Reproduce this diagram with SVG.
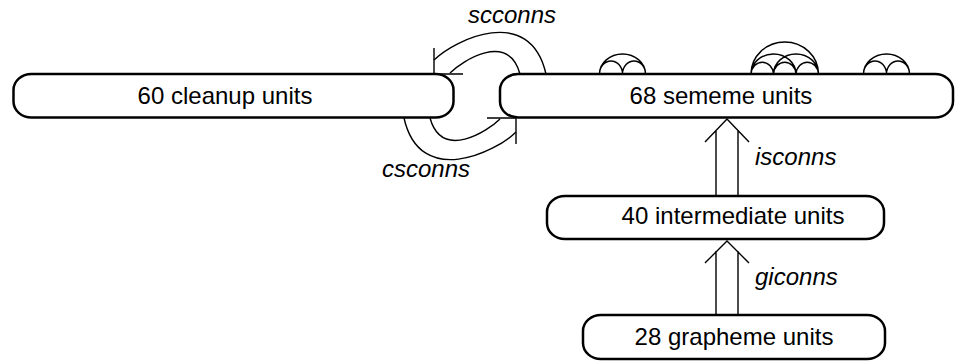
<svg xmlns="http://www.w3.org/2000/svg" width="957" height="362" viewBox="0 0 957 362">
<style>
.box{fill:#fff;stroke:#000;stroke-width:2.5}
.lbl{font-family:"Liberation Sans",Arial,sans-serif;font-size:24px;fill:#000;text-anchor:middle}
.it{font-family:"Liberation Sans",Arial,sans-serif;font-size:24px;font-style:italic;fill:#000}
.ln{fill:none;stroke:#000;stroke-width:1.4}
</style>
<rect width="957" height="362" fill="#fff"/>
<g id="cleanup">
<rect class="box" x="13.5" y="74" width="440" height="43.5" rx="18" ry="16"/>
<text class="lbl" x="225" y="104">60 cleanup units</text>
</g>
<g id="sememe">
<rect class="box" x="500" y="74" width="453" height="43.5" rx="18" ry="16"/>
<text class="lbl" x="721" y="104">68 sememe units</text>
</g>
<g id="intermediate">
<rect class="box" x="547" y="196" width="337" height="43" rx="18" ry="16"/>
<text class="lbl" x="733" y="224">40 intermediate units</text>
</g>
<g id="grapheme">
<rect class="box" x="583" y="315" width="302" height="44" rx="18" ry="16"/>
<text class="lbl" x="734" y="345">28 grapheme units</text>
</g>
<g id="connectors">
<path class="ln" d="M546 74 C530 3 454 40 434 60"/>
<path class="ln" d="M520 74 C508 31 462 61 450 73"/>
<path class="ln" d="M434 48 L434 74 L463 74"/>
<path class="ln" d="M404 118 C420 189 496 152 516 132"/>
<path class="ln" d="M430 118 C442 161 488 131 500 119"/>
<path class="ln" d="M516 144 L516 118 L487 118"/>
<path class="ln" d="M716 196 L716 130 M738 196 L738 130 M705 142 L727 119 L749 142"/>
<path class="ln" d="M716 315 L716 251 M738 315 L738 251 M705 263 L727 241 L749 263"/>
<path class="ln" d="M599.5 74 A11.5 13 0 0 1 622.5 74 A11.5 13 0 0 1 645.5 74 M599.5 74 A23 20 0 0 1 645.5 74"/>
<path class="ln" d="M751 74 A11.3 13 0 0 1 773.5 74 A11.3 13 0 0 1 796 74 A11.3 13 0 0 1 818.5 74 M751 74 A22.5 20 0 0 1 796 74 M773.5 74 A22.5 20 0 0 1 818.5 74 M751 74 A33.75 32 0 0 1 818.5 74"/>
<path class="ln" d="M863.5 74 A11.5 13 0 0 1 886.5 74 A11.5 13 0 0 1 909.5 74 M863.5 74 A23 20 0 0 1 909.5 74"/>
</g>
<text class="it" x="468" y="23">scconns</text>
<text class="it" x="382" y="177">csconns</text>
<text class="it" x="755" y="165">isconns</text>
<text class="it" x="755" y="285">giconns</text>
</svg>
